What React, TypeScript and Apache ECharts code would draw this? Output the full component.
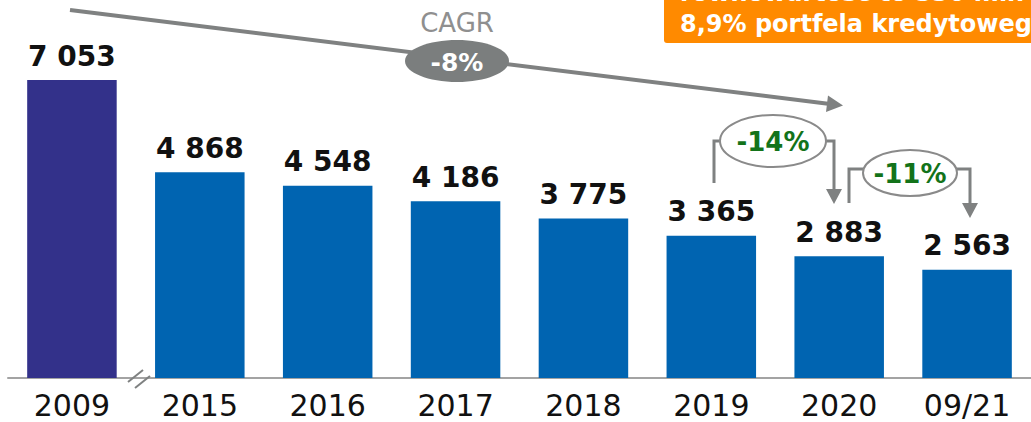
import React, { useEffect, useRef } from "react";
import * as echarts from "echarts";

const categories = ["2009", "2015", "2016", "2017", "2018", "2019", "2020", "09/21"];
const values = [7053, 4868, 4548, 4186, 3775, 3365, 2883, 2563];
const cagrLabel = "CAGR";
const cagrValue = "-8%";
const changeLabels = ["-14%", "-11%"];
const boxLines = ["równowartość to 330 mln", "8,9% portfela kredytowego"];

const FONT = "DejaVu Sans";
const GRAY = "#7f8181";
const GREEN = "#13731a";

function fmt(v: number): string {
  const th = Math.floor(v / 1000);
  const rest = String(v % 1000).padStart(3, "0");
  return th > 0 ? `${th} ${rest}` : String(v);
}

export default function App() {
  const ref = useRef<HTMLDivElement>(null);
  useEffect(() => {
    if (!ref.current) return;
    const chart = echarts.init(ref.current, undefined, { renderer: "svg" });
    const lineStyle = { stroke: GRAY, lineWidth: 3 };
    const option: any = {
      animation: false,
      backgroundColor: "#ffffff",
      grid: { left: 8, right: -3, top: 40, bottom: 44, containLabel: false },
      xAxis: {
        type: "category",
        data: categories,
        axisTick: { show: false },
        axisLine: { show: true, lineStyle: { color: "#a3a3a3", width: 2 } },
        axisLabel: { fontSize: 30, color: "#111", fontFamily: FONT, margin: 12 },
      },
      yAxis: { type: "value", min: 0, max: 8000, show: false, splitLine: { show: false } },
      series: [
        {
          type: "bar",
          barWidth: "70%",
          data: values.map((v, i) => ({
            value: v,
            itemStyle: { color: i === 0 ? "#33318a" : "#0064b1" },
          })),
          label: {
            show: true,
            position: "top",
            distance: 10,
            formatter: (p: any) => fmt(p.value),
            fontSize: 28,
            fontWeight: "bold",
            color: "#111",
            fontFamily: FONT,
          },
        },
      ],
      graphic: [
        // orange box
        { type: "rect", z: 10, shape: { x: 664, y: -10, width: 420, height: 53, r: 3 }, style: { fill: "#ff8a00" } },
        { type: "text", z: 11, x: 680, y: -7, style: { text: boxLines[0], fill: "#fff", font: `bold 24px "${FONT}"`, verticalAlign: "middle", align: "left" } },
        { type: "text", z: 11, x: 680, y: 24, style: { text: boxLines[1], fill: "#fff", font: `bold 24px "${FONT}"`, verticalAlign: "middle", align: "left" } },
        // CAGR arrow
        { type: "line", z: 10, shape: { x1: 70, y1: 10, x2: 830, y2: 104 }, style: { stroke: GRAY, lineWidth: 4 } },
        { type: "polygon", z: 10, shape: { points: [[843, 105.5], [828, 95.5], [826, 112]] }, style: { fill: GRAY } },
        { type: "ellipse", z: 11, shape: { cx: 457, cy: 61, rx: 52, ry: 21 }, style: { fill: "#7b7e7e" } },
        { type: "text", z: 12, x: 457, y: 62, style: { text: cagrValue, fill: "#fff", font: `bold 25px "${FONT}"`, align: "center", verticalAlign: "middle" } },
        { type: "text", z: 12, x: 457, y: 23, style: { text: cagrLabel, fill: "#8f8f8f", font: `26px "${FONT}"`, align: "center", verticalAlign: "middle" } },
        // -14% bracket
        { type: "polyline", z: 10, shape: { points: [[714, 183], [714, 141], [722, 141]] }, style: { ...lineStyle, fill: null } },
        { type: "polyline", z: 10, shape: { points: [[826, 141], [834, 141], [834, 191]] }, style: { ...lineStyle, fill: null } },
        { type: "polygon", z: 10, shape: { points: [[834, 204], [826, 189], [842, 189]] }, style: { fill: GRAY } },
        { type: "ellipse", z: 11, shape: { cx: 773, cy: 141, rx: 53, ry: 26 }, style: { fill: "#fff", stroke: "#8a8a8a", lineWidth: 2 } },
        { type: "text", z: 12, x: 773, y: 142, style: { text: changeLabels[0], fill: GREEN, font: `bold 26px "${FONT}"`, align: "center", verticalAlign: "middle" } },
        // -11% bracket
        { type: "polyline", z: 10, shape: { points: [[849, 203], [849, 169], [865, 169]] }, style: { ...lineStyle, fill: null } },
        { type: "polyline", z: 10, shape: { points: [[955, 169], [970, 169], [970, 205]] }, style: { ...lineStyle, fill: null } },
        { type: "polygon", z: 10, shape: { points: [[970, 218], [962, 203], [978, 203]] }, style: { fill: GRAY } },
        { type: "ellipse", z: 11, shape: { cx: 910, cy: 173, rx: 47, ry: 23 }, style: { fill: "#fff", stroke: "#8a8a8a", lineWidth: 2 } },
        { type: "text", z: 12, x: 910, y: 174, style: { text: changeLabels[1], fill: GREEN, font: `bold 26px "${FONT}"`, align: "center", verticalAlign: "middle" } },
        // axis break marks
        { type: "line", z: 10, shape: { x1: 128, y1: 382, x2: 143, y2: 370 }, style: { stroke: GRAY, lineWidth: 2 } },
        { type: "line", z: 10, shape: { x1: 135, y1: 388, x2: 150, y2: 376 }, style: { stroke: GRAY, lineWidth: 2 } },
      ],
    };
    chart.setOption(option);
    return () => chart.dispose();
  }, []);
  return (
    <div
      ref={ref}
      style={{ position: "fixed", left: 0, top: 0, width: 1031, height: 422, background: "#fff" }}
    />
  );
}
